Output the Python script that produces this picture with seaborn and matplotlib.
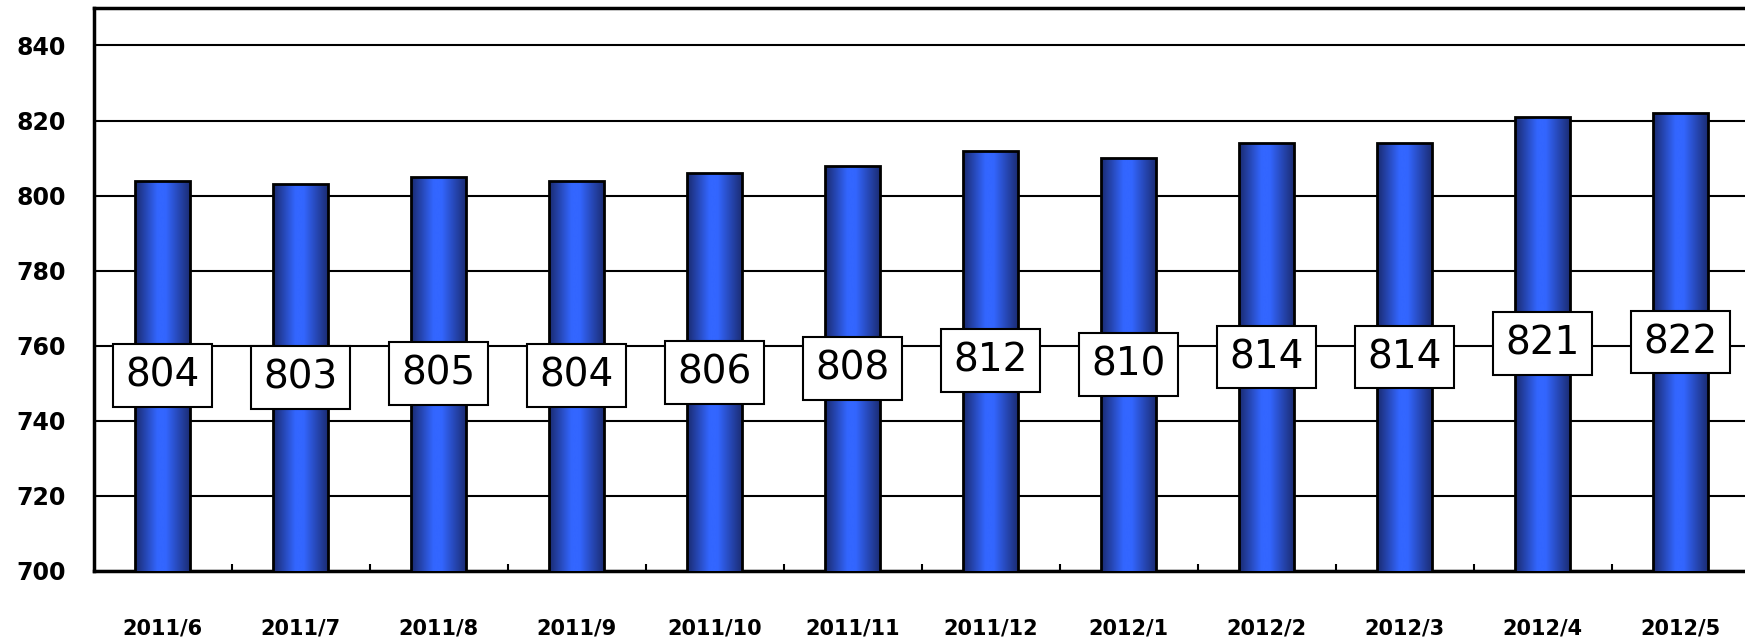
import numpy as np
import pandas as pd
import seaborn as sns
import matplotlib.pyplot as plt
from matplotlib.colors import LinearSegmentedColormap
from matplotlib.ticker import FixedLocator

months = ['2011/6', '2011/7', '2011/8', '2011/9', '2011/10', '2011/11',
          '2011/12', '2012/1', '2012/2', '2012/3', '2012/4', '2012/5']
members = [804, 803, 805, 804, 806, 808, 812, 810, 814, 814, 821, 822]
yticks = [700, 720, 740, 760, 780, 800, 820, 840]
ymin, ymax = 700, 850

df = pd.DataFrame({'month': months, 'members': members})

sns.set_theme(style='white')
plt.rcParams['font.family'] = ['DejaVu Sans']

fig = plt.figure(figsize=(17.45, 6.42), dpi=100)
ax = fig.add_axes([0.0536, 0.1106, 0.949, 0.877])

sns.barplot(data=df, x='month', y='members', ax=ax, width=0.4,
            color='#3366ff', edgecolor='black', linewidth=2, zorder=3)

# horizontal blue gradient on each bar
cmap = LinearSegmentedColormap.from_list(
    'bar', [(0, '#1a2a6e'), (0.4, '#3366ff'), (0.55, '#3366ff'), (1, '#1a2a6e')])
grad = np.linspace(0, 1, 256).reshape(1, -1)
for p in ax.patches:
    x0, w, h = p.get_x(), p.get_width(), p.get_height()
    im = ax.imshow(grad, extent=[x0, x0 + w, ymin, h], aspect='auto',
                   cmap=cmap, zorder=3.5, interpolation='bicubic')
    im.set_clip_path(p)
    p.set_facecolor('none')
    p.set_zorder(4)

ax.set_xlim(-0.5, 11.5)
ax.set_ylim(ymin, ymax)
ax.set_yticks(yticks)
ax.yaxis.grid(True, color='black', lw=1.5)
ax.set_axisbelow(True)

for i, v in enumerate(members):
    ax.text(i, (ymin + v) / 2, str(v), ha='center', va='center', fontsize=28,
            color='black', zorder=6,
            bbox=dict(boxstyle='square,pad=0.32', fc='white', ec='black', lw=1.5))

for s in ['left', 'bottom', 'top']:
    ax.spines[s].set_color('black')
    ax.spines[s].set_linewidth(2.5)
ax.spines['right'].set_visible(False)

ax.xaxis.set_minor_locator(FixedLocator(np.arange(0.5, 11, 1)))
ax.tick_params(axis='x', which='minor', direction='in', length=5, width=1.5,
               color='black', bottom=True)
ax.tick_params(axis='x', which='major', length=0, pad=34, labelsize=15)
ax.tick_params(axis='y', length=0, pad=20, labelsize=17)
for t in ax.get_xticklabels() + ax.get_yticklabels():
    t.set_fontweight('bold')
    t.set_color('black')

ax.set_xlabel('')
ax.set_ylabel('')

fig.savefig('out.png', dpi=100)
